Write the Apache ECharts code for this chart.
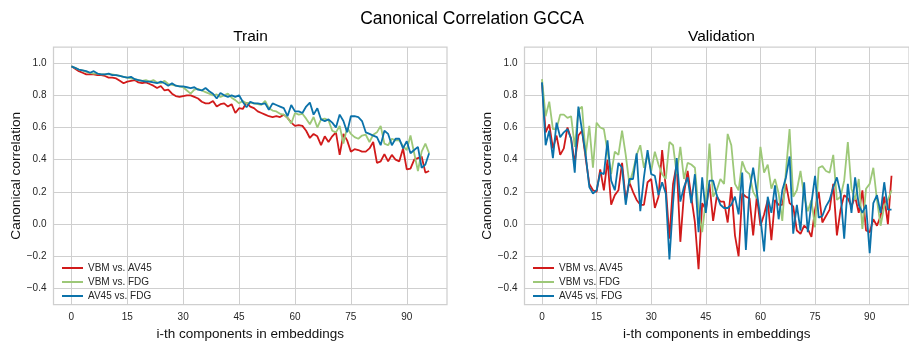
<!DOCTYPE html>
<html>
<head>
<meta charset="utf-8">
<script src="https://cdn.jsdelivr.net/npm/echarts@6/dist/echarts.min.js"></script>
<style>
  html, body { margin: 0; padding: 0; background: #ffffff; }
  #chart { width: 909px; height: 346px; }
</style>
</head>
<body>
<div id="chart"></div>
<script>
// Canonical correlation per embedding component, GCCA on three modalities.
const seriesNames = ['VBM vs. AV45', 'VBM vs. FDG', 'AV45 vs. FDG'];
const panelTitles = ['Train', 'Validation'];
const xTicks = [0, 15, 30, 45, 60, 75, 90];
const yTicks = [-0.4, -0.2, 0.0, 0.2, 0.4, 0.6, 0.8, 1.0];

// Train split
const trainVbmAv45 = [
  0.98, 0.965, 0.95, 0.94, 0.93, 0.93, 0.93, 0.925, 0.925, 0.92,
  0.91, 0.91, 0.905, 0.89, 0.875, 0.885, 0.89, 0.895, 0.88, 0.875,
  0.88, 0.87, 0.86, 0.845, 0.858, 0.83, 0.835, 0.81, 0.795, 0.79,
  0.795, 0.80, 0.80, 0.79, 0.78, 0.76, 0.75, 0.75, 0.765, 0.73,
  0.745, 0.75, 0.73, 0.745, 0.69, 0.72, 0.715, 0.755, 0.73, 0.72,
  0.70, 0.69, 0.68, 0.67, 0.665, 0.67, 0.665, 0.68, 0.66, 0.63,
  0.61, 0.615, 0.61, 0.58, 0.535, 0.56, 0.545, 0.49, 0.545, 0.51,
  0.545, 0.57, 0.43, 0.56, 0.52, 0.45, 0.465, 0.46, 0.45, 0.45,
  0.47, 0.51, 0.38, 0.39, 0.435, 0.39, 0.43, 0.40, 0.39, 0.47,
  0.34, 0.345, 0.40, 0.41, 0.42, 0.32, 0.33
];
const trainVbmFdg = [
  0.98, 0.97, 0.96, 0.955, 0.945, 0.94, 0.935, 0.935, 0.93, 0.93,
  0.93, 0.93, 0.925, 0.92, 0.915, 0.91, 0.905, 0.90, 0.895, 0.89,
  0.895, 0.885, 0.895, 0.88, 0.875, 0.89, 0.87, 0.865, 0.86, 0.855,
  0.85, 0.83, 0.81, 0.835, 0.84, 0.83, 0.82, 0.81, 0.80, 0.805,
  0.79, 0.80, 0.81, 0.785, 0.77, 0.75, 0.765, 0.75, 0.755, 0.75,
  0.745, 0.74, 0.765, 0.72, 0.705, 0.70, 0.685, 0.68, 0.66, 0.625,
  0.69, 0.68, 0.685, 0.655, 0.62, 0.665, 0.60, 0.65, 0.655, 0.645,
  0.58, 0.57, 0.61, 0.50, 0.60, 0.56, 0.54, 0.53, 0.55, 0.555,
  0.51, 0.555, 0.57, 0.61, 0.50, 0.49, 0.53, 0.52, 0.52, 0.485,
  0.46, 0.55, 0.44, 0.33, 0.45, 0.50, 0.44
];
const trainAv45Fdg = [
  0.98, 0.97, 0.96, 0.955, 0.95, 0.94, 0.95, 0.935, 0.93, 0.93,
  0.935, 0.925, 0.925, 0.92, 0.915, 0.91, 0.915, 0.90, 0.895, 0.89,
  0.885, 0.885, 0.88, 0.875, 0.885, 0.875, 0.86, 0.875, 0.86, 0.855,
  0.855, 0.85, 0.845, 0.85, 0.835, 0.83, 0.845, 0.825, 0.81, 0.78,
  0.815, 0.80, 0.79, 0.80, 0.79, 0.80, 0.76, 0.725, 0.76, 0.75,
  0.75, 0.745, 0.75, 0.71, 0.75, 0.74, 0.73, 0.72, 0.67, 0.74,
  0.70, 0.70, 0.69, 0.73, 0.755, 0.68, 0.72, 0.65, 0.64, 0.65,
  0.63, 0.60, 0.68, 0.64, 0.57, 0.67, 0.67, 0.665, 0.64, 0.57,
  0.56, 0.55, 0.54, 0.49, 0.58, 0.56, 0.49, 0.53, 0.53, 0.47,
  0.515, 0.44, 0.46, 0.48, 0.35, 0.37, 0.44
];

// Validation split
const valVbmAv45 = [
  0.88, 0.57, 0.62, 0.47, 0.55, 0.43, 0.47, 0.60, 0.53, 0.38,
  0.55, 0.58, 0.41, 0.25, 0.21, 0.20, 0.34, 0.21, 0.40, 0.12,
  0.18, 0.21, 0.38, 0.15, 0.26, 0.20, 0.15, 0.12, 0.12, 0.26,
  0.28, 0.10, 0.17, 0.46, 0.23, -0.09, 0.25, 0.37, -0.11, 0.19,
  0.33, 0.17, 0.01, -0.28, 0.13, 0.09, 0.25, 0.02, 0.17, 0.14,
  0.14, 0.01, 0.23, -0.07, -0.20, 0.19, 0.17, 0.16, -0.07, 0.17,
  -0.01, 0.06, 0.15, -0.10, 0.15, 0.12, 0.12, 0.25, 0.13, 0.11,
  -0.04, -0.06, -0.01, -0.03, -0.08, 0.09, 0.20, 0.01, 0.05, 0.09,
  0.25, -0.07, 0.09, 0.18, 0.16, 0.11, 0.17, 0.07, 0.21, -0.04,
  -0.05, 0.03, -0.01, 0.05, 0.17, 0.00, 0.30
];
const valVbmFdg = [
  0.90, 0.67, 0.76, 0.59, 0.59, 0.68, 0.68, 0.66, 0.67, 0.48,
  0.71, 0.73, 0.43, 0.61, 0.35, 0.63, 0.60, 0.59, 0.45, 0.31,
  0.45, 0.43, 0.58, 0.43, 0.25, 0.33, 0.43, 0.49, 0.35, 0.43,
  0.33, 0.45, 0.37, 0.31, 0.28, 0.51, 0.49, 0.31, 0.48, 0.28,
  0.38, 0.37, 0.35, 0.09, -0.05, 0.15, 0.50, 0.17, 0.21, 0.28,
  0.25, 0.56, 0.49, 0.25, 0.21, 0.39, 0.33, 0.31, 0.20, 0.16,
  0.48, 0.32, 0.37, 0.22, 0.28, 0.19, 0.02, 0.33, 0.59, 0.17,
  0.21, 0.33, 0.17, 0.08, 0.15, -0.02, 0.35, 0.36, 0.33, 0.32,
  0.43, 0.15, 0.17, 0.27, 0.51, 0.22, 0.15, 0.28, -0.03, 0.22,
  0.25, 0.35, 0.15, -0.01, 0.11, 0.15, 0.21
];
const valAv45Fdg = [
  0.88, 0.49, 0.58, 0.41, 0.63, 0.54, 0.57, 0.59, 0.53, 0.32,
  0.73, 0.58, 0.43, 0.23, 0.19, 0.21, 0.32, 0.31, 0.52, 0.27,
  0.21, 0.38, 0.35, 0.12, 0.28, 0.28, 0.44, 0.08, 0.29, 0.46,
  0.31, 0.30, 0.18, 0.26, 0.19, -0.22, 0.13, 0.41, 0.14, 0.23,
  0.29, 0.13, 0.31, -0.05, 0.29, 0.07, 0.27, 0.27, 0.18, 0.12,
  0.10, 0.10, 0.12, 0.17, 0.06, 0.32, -0.16, 0.21, 0.35, 0.20,
  0.04, -0.17, 0.17, 0.07, 0.24, 0.03, 0.21, 0.29, 0.42, -0.06,
  0.12, -0.04, 0.26, -0.05, 0.13, 0.30, 0.04, 0.05, 0.11, 0.15,
  0.23, 0.29, 0.19, -0.09, 0.25, 0.07, 0.29, 0.12, 0.07, 0.12,
  -0.18, 0.13, 0.18, 0.07, 0.26, 0.09, 0.09
];

const lineColors = ['#d11a1a', '#9dc878', '#0b72aa'];
const panels = [
  [trainVbmAv45, trainVbmFdg, trainAv45Fdg],
  [valVbmAv45, valVbmFdg, valAv45Fdg]
];

const FONT = '"Liberation Sans", Arial, "DejaVu Sans", sans-serif';
const labelColor = '#262626';
const gridColor = '#cfcfcf';

const gridLeft = [53.5, 524.5];
const gridTop = 47;
const gridWidth = 393.5;
const gridHeight = 263;

function fmtY(v) {
  const s = Math.abs(v).toFixed(1);
  return (v < -1e-9 ? '\u2212' : '') + s;
}

const grids = gridLeft.map(l => ({
  left: l, top: gridTop, width: gridWidth, height: gridHeight,
  show: true, borderColor: gridColor, borderWidth: 1.25,
  backgroundColor: 'transparent', containLabel: false
}));

const xAxes = gridLeft.map((l, g) => ({
  type: 'value', gridIndex: g, min: -4.8, max: 100.8,
  name: 'i-th components in embeddings', nameLocation: 'middle', nameGap: 18,
  nameTextStyle: { fontFamily: FONT, fontSize: 13.5, color: '#111' },
  axisLine: { show: false },
  axisTick: { show: false, customValues: xTicks },
  axisLabel: { customValues: xTicks, fontFamily: FONT, fontSize: 10, color: labelColor, margin: 7.5 },
  splitLine: { show: true, lineStyle: { color: gridColor, width: 1 } }
}));

const yAxes = gridLeft.map((l, g) => ({
  type: 'value', gridIndex: g, min: -0.5, max: 1.1,
  name: 'Canonical correlation', nameLocation: 'middle', nameGap: 29,
  nameTextStyle: { fontFamily: FONT, fontSize: 13.6, color: '#111' },
  axisLine: { show: false },
  axisTick: { show: false, customValues: yTicks },
  axisLabel: { customValues: yTicks, formatter: fmtY, fontFamily: FONT, fontSize: 10, color: labelColor, margin: 7 },
  splitLine: { show: true, lineStyle: { color: gridColor, width: 1 } }
}));

const series = [];
panels.forEach((sets, g) => {
  sets.forEach((vals, k) => {
    series.push({
      type: 'line', name: seriesNames[k],
      xAxisIndex: g, yAxisIndex: g,
      data: vals.map((v, i) => [i, v]),
      showSymbol: false, symbol: 'none',
      lineStyle: { color: lineColors[k], width: 1.8 },
      itemStyle: { color: lineColors[k] },
      z: 2 + k
    });
  });
});

const legends = gridLeft.map(l => ({
  data: seriesNames,
  orient: 'vertical',
  left: l + 8.5, top: 262,
  icon: 'rect', itemWidth: 21, itemHeight: 2, itemGap: 2,
  padding: 0,
  selectedMode: false,
  textStyle: { fontFamily: FONT, fontSize: 10, color: labelColor, lineHeight: 12 }
}));

const titles = [
  { text: 'Canonical Correlation GCCA', left: 472, top: 10, textAlign: 'center', padding: 0,
    textStyle: { fontFamily: FONT, fontSize: 17.5, fontWeight: 'normal', color: '#000' } },
  { text: panelTitles[0], left: gridLeft[0] + 197, top: 29, textAlign: 'center', padding: 0,
    textStyle: { fontFamily: FONT, fontSize: 15.5, fontWeight: 'normal', color: '#000' } },
  { text: panelTitles[1], left: gridLeft[1] + 197, top: 29, textAlign: 'center', padding: 0,
    textStyle: { fontFamily: FONT, fontSize: 15.5, fontWeight: 'normal', color: '#000' } }
];

const chart = echarts.init(document.getElementById('chart'), null, { renderer: 'canvas' });
chart.setOption({
  animation: false,
  backgroundColor: '#ffffff',
  title: titles,
  legend: legends,
  grid: grids,
  xAxis: xAxes,
  yAxis: yAxes,
  series: series
});
</script>
</body>
</html>
